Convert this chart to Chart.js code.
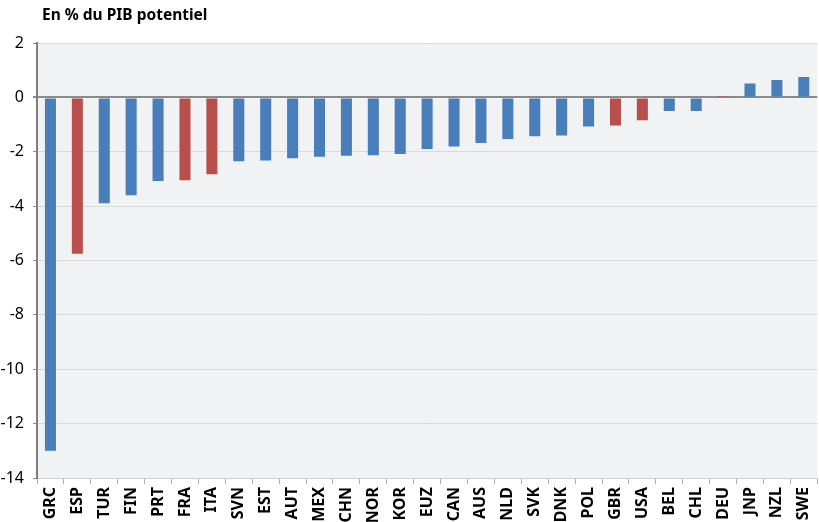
<!DOCTYPE html>
<html lang="fr">
<head>
<meta charset="utf-8">
<title>En % du PIB potentiel</title>
<script src="https://cdn.jsdelivr.net/npm/chart.js@4/dist/chart.umd.min.js"></script>
<style>
	html, body { margin: 0; padding: 0; background: #fff; overflow: hidden; }
	#wrap { position: relative; width: 826px; height: 522px; }
</style>
</head>
<body>
<div id="wrap"><canvas id="chart"></canvas></div>
<script>
const countries = ['GRC', 'ESP', 'TUR', 'FIN', 'PRT', 'FRA', 'ITA', 'SVN', 'EST', 'AUT', 'MEX', 'CHN', 'NOR', 'KOR', 'EUZ',
	'CAN', 'AUS', 'NLD', 'SVK', 'DNK', 'POL', 'GBR', 'USA', 'BEL', 'CHL', 'DEU', 'JNP', 'NZL', 'SWE'];
const balance = [-13.0, -5.75, -3.89, -3.6, -3.08, -3.05, -2.83, -2.35, -2.32, -2.24, -2.18, -2.15, -2.13, -2.08, -1.9,
	-1.81, -1.68, -1.53, -1.43, -1.4, -1.07, -1.03, -0.84, -0.5, -0.5, 0.05, 0.51, 0.64, 0.75];
const highlighted = ['ESP', 'FRA', 'ITA', 'GBR', 'USA', 'DEU'];
const yTicks = [2, 0, -2, -4, -6, -8, -10, -12, -14];

const BLUE = '#4a7ebb';
const RED = '#b84f4d';

const plotBackground = {
	id: 'plotBackground',
	beforeDraw(chart) {
		const { ctx, chartArea } = chart;
		ctx.save();
		ctx.fillStyle = '#f1f2f4';
		ctx.fillRect(chartArea.left, chartArea.top, chartArea.right - chartArea.left, chartArea.bottom - chartArea.top);
		ctx.restore();
	},
};

const heading = {
	id: 'heading',
	afterDraw(chart) {
		const { ctx } = chart;
		ctx.save();
		ctx.fillStyle = '#000';
		ctx.font = 'bold 15.5px "Noto Sans", sans-serif';
		ctx.textBaseline = 'alphabetic';
		ctx.fillText('En % du PIB potentiel', 42, 20);
		ctx.restore();
	},
};

new Chart(document.getElementById('chart'), {
	type: 'bar',
	data: {
		labels: countries,
		datasets: [{
			data: balance,
			backgroundColor: countries.map((c) => (highlighted.includes(c) ? RED : BLUE)),
			barPercentage: 0.41,
			categoryPercentage: 1,
		}],
	},
	options: {
		responsive: true,
		maintainAspectRatio: false,
		animation: false,
		layout: { padding: { top: 43, left: 0, right: 0, bottom: 0 } },
		plugins: {
			legend: { display: false },
			tooltip: { enabled: false },
		},
		scales: {
			x: {
				afterFit(scale) { scale.height = 44; },
				grid: {
					drawOnChartArea: false,
					drawTicks: true,
					tickLength: 6,
					color: '#b0b0b0',
				},
				border: { color: '#d0d0d0', width: 1 },
				ticks: {
					maxRotation: 90,
					minRotation: 90,
					autoSkip: false,
					padding: 3,
					color: '#000',
					font: { family: '"Noto Sans", sans-serif', size: 16, weight: 'bold' },
				},
			},
			y: {
				min: -14,
				max: 2,
				afterFit(scale) { scale.width = 37; },
				afterBuildTicks(scale) { scale.ticks = yTicks.map((v) => ({ value: v })); },
				grid: {
					color: (ctx) => (ctx.tick && ctx.tick.value === 0 ? '#8a8a8a' : '#dadada'),
					lineWidth: (ctx) => (ctx.tick && ctx.tick.value === 0 ? 2 : 1),
					tickLength: 4,
					tickColor: '#8a8a8a',
				},
				border: { color: '#7f7f7f', width: 2 },
				ticks: {
					padding: 9,
					color: '#000',
					font: { family: '"Noto Sans", sans-serif', size: 16 },
				},
			},
		},
	},
	plugins: [plotBackground, heading],
});
</script>
</body>
</html>
